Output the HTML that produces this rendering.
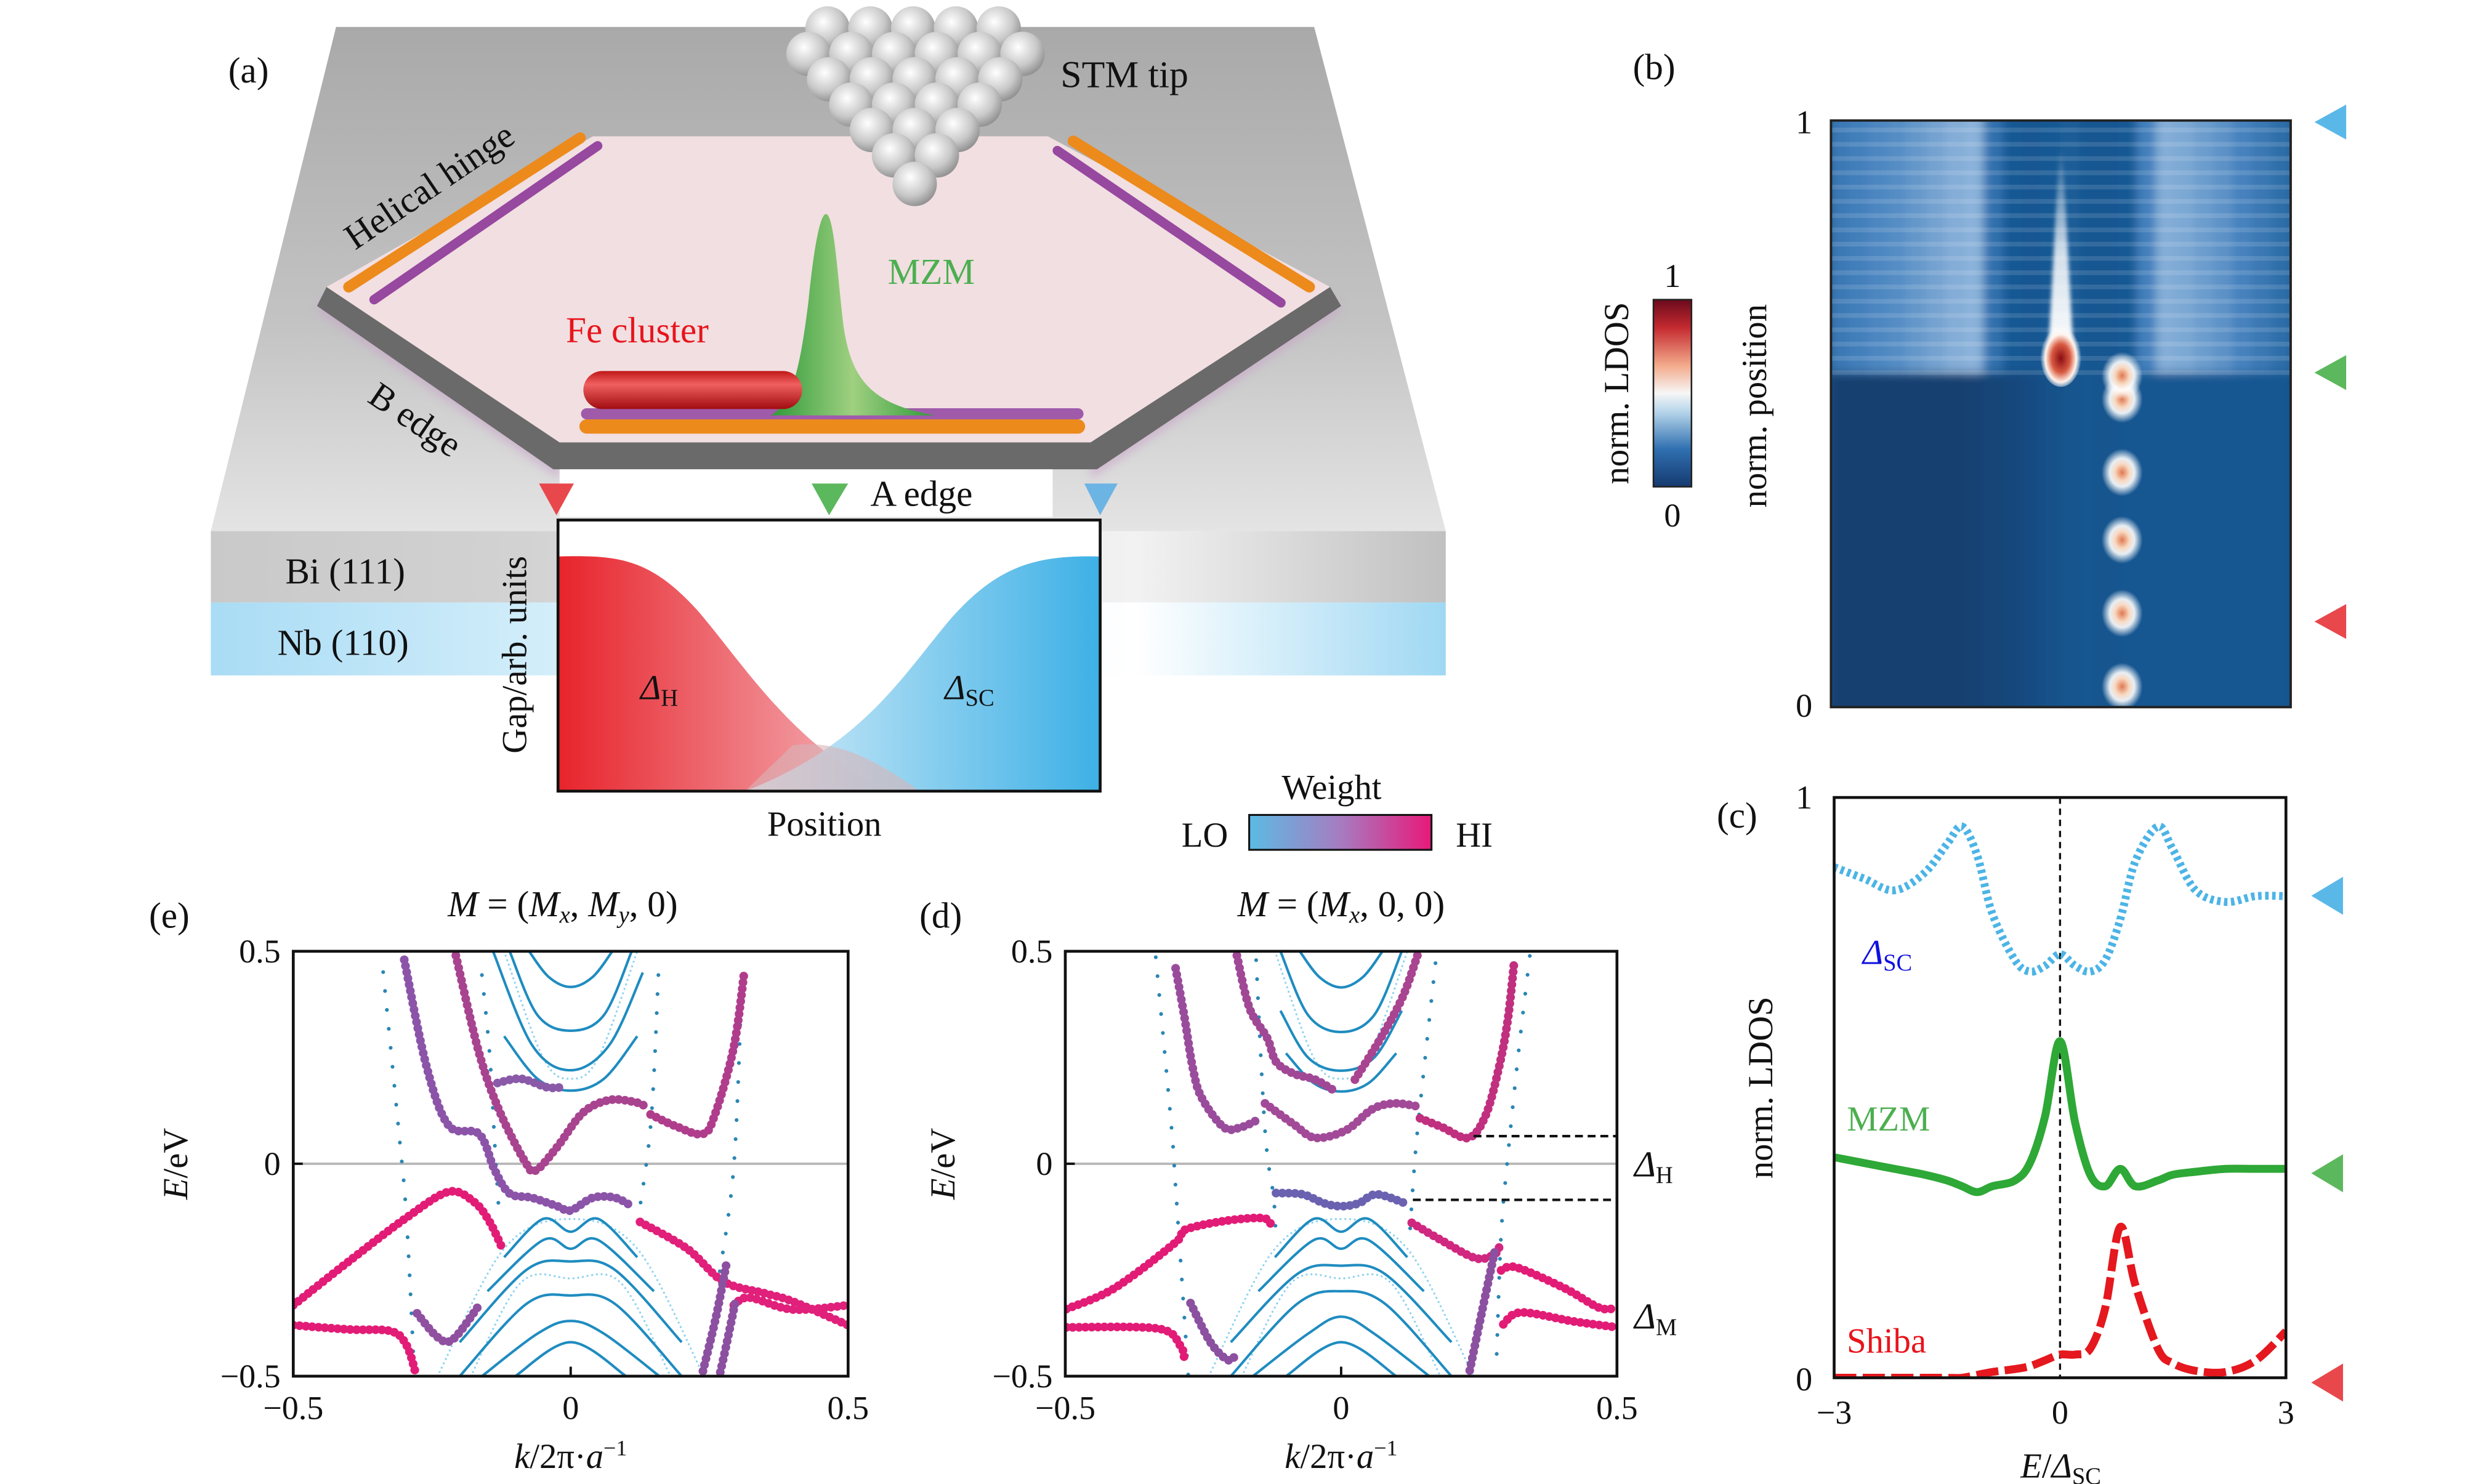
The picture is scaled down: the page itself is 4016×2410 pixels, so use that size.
<!DOCTYPE html>
<html><head><meta charset="utf-8">
<style>
html,body{margin:0;padding:0;background:#fff;}
svg{display:block;}
text{font-family:"Liberation Serif",serif;fill:#111;}
</style></head>
<body>
<svg id="fig" width="4016" height="2410" viewBox="0 0 1560 936" preserveAspectRatio="none" xmlns="http://www.w3.org/2000/svg">
<defs>
  <linearGradient id="gTop" x1="0" y1="0" x2="0" y2="1">
    <stop offset="0" stop-color="#a9a9a9"/><stop offset="0.6" stop-color="#c4c4c4"/><stop offset="1" stop-color="#e4e4e4"/>
  </linearGradient>
  <linearGradient id="gBi" x1="0" y1="0" x2="1" y2="0">
    <stop offset="0" stop-color="#c9c9c9"/><stop offset="0.25" stop-color="#d2d2d2"/><stop offset="0.75" stop-color="#f2f2f2"/><stop offset="1" stop-color="#c0c0c0"/>
  </linearGradient>
  <linearGradient id="gNb" x1="0" y1="0" x2="1" y2="0">
    <stop offset="0" stop-color="#a9dcf5"/><stop offset="0.28" stop-color="#d4eefa"/><stop offset="0.75" stop-color="#ffffff"/><stop offset="1" stop-color="#9fd8f3"/>
  </linearGradient>
  <linearGradient id="gRed" x1="0" y1="0" x2="1" y2="0">
    <stop offset="0" stop-color="#e8232b"/><stop offset="1" stop-color="#f4b9bf"/>
  </linearGradient>
  <linearGradient id="gBlue" x1="0" y1="0" x2="1" y2="0">
    <stop offset="0" stop-color="#d8eef9"/><stop offset="1" stop-color="#33ace4"/>
  </linearGradient>
  <linearGradient id="gWeight" x1="0" y1="0" x2="1" y2="0">
    <stop offset="0" stop-color="#5bbbe4"/><stop offset="0.5" stop-color="#a67cc0"/><stop offset="1" stop-color="#e8197a"/>
  </linearGradient>
  <linearGradient id="gCbar" x1="0" y1="1" x2="0" y2="0">
    <stop offset="0" stop-color="#163a70"/><stop offset="0.2" stop-color="#2f6fb0"/><stop offset="0.4" stop-color="#b6d5ea"/><stop offset="0.5" stop-color="#f6f6f6"/><stop offset="0.65" stop-color="#f3a98a"/><stop offset="0.85" stop-color="#c42a30"/><stop offset="1" stop-color="#6b0a1c"/>
  </linearGradient>
  <linearGradient id="gMZM" x1="0" y1="0" x2="1" y2="0">
    <stop offset="0" stop-color="#2e9a3a"/><stop offset="0.5" stop-color="#9fd080"/><stop offset="1" stop-color="#2e9a3a"/>
  </linearGradient>
  <linearGradient id="gFe" x1="0" y1="0" x2="0" y2="1">
    <stop offset="0" stop-color="#c01818"/><stop offset="0.35" stop-color="#f06060"/><stop offset="1" stop-color="#a00c10"/>
  </linearGradient>
  <radialGradient id="gSphere" cx="0.4" cy="0.35" r="0.7">
    <stop offset="0" stop-color="#ffffff"/><stop offset="0.6" stop-color="#c8c8c8"/><stop offset="1" stop-color="#8a8a8a"/>
  </radialGradient>
  <radialGradient id="gPeak" cx="0.5" cy="0.5" r="0.5">
    <stop offset="0" stop-color="#e07850"/><stop offset="0.35" stop-color="#f8d8c0"/><stop offset="0.6" stop-color="#ffffff" stop-opacity="0.9"/><stop offset="1" stop-color="#ffffff" stop-opacity="0"/>
  </radialGradient>
  <radialGradient id="gDrop" cx="0.5" cy="0.55" r="0.5">
    <stop offset="0" stop-color="#8a0c14"/><stop offset="0.45" stop-color="#d85a40"/><stop offset="0.75" stop-color="#fff4ec"/><stop offset="1" stop-color="#ffffff" stop-opacity="0"/>
  </radialGradient>
  <linearGradient id="gCol" x1="0" y1="0" x2="0" y2="1">
    <stop offset="0" stop-color="#ffffff" stop-opacity="0"/><stop offset="0.5" stop-color="#ffffff" stop-opacity="0.8"/><stop offset="1" stop-color="#ffffff"/>
  </linearGradient>
  <filter id="blur3"><feGaussianBlur stdDeviation="3"/></filter>
  <filter id="blur1"><feGaussianBlur stdDeviation="1.2"/></filter>
  <clipPath id="clipE"><rect x="185" y="600" width="350" height="268"/></clipPath>
  <clipPath id="clipD"><rect x="672" y="600" width="348" height="268"/></clipPath>
  <clipPath id="clipB"><rect x="1155" y="76" width="290" height="370"/></clipPath>
  <clipPath id="clipC"><rect x="1157" y="503" width="285" height="366"/></clipPath>
</defs>

<!-- ================= Panel (a) ================= -->
<g id="panel-a">
  <polygon points="212,17 829,17 912,335 133,335" fill="url(#gTop)"/>
  <rect x="133" y="335" width="779" height="45" fill="url(#gBi)"/>
  <rect x="133" y="380" width="779" height="46" fill="url(#gNb)"/>
  <polygon points="206,186 353,290 353,302 200,196" fill="#c8a0c8" opacity="0.6" filter="url(#blur3)"/>
  <polygon points="839,186 688,290 688,302 846,196" fill="#c8a0c8" opacity="0.6" filter="url(#blur3)"/>
  <polygon points="206,181 353,279 688,279 839,181 846,193 692,296 349,296 200,193" fill="#6a6a6a"/>
  <polygon points="374,86 661,86 839,181 688,279 353,279 206,181" fill="#f1dfe1"/>
  <rect x="353" y="296" width="311" height="30" fill="#ffffff"/>
  <line x1="220" y1="181" x2="366" y2="87" stroke="#ec8a1c" stroke-width="7" stroke-linecap="round"/>
  <line x1="236" y1="189" x2="377" y2="92" stroke="#97489f" stroke-width="6" stroke-linecap="round"/>
  <line x1="677" y1="89" x2="826" y2="181" stroke="#ec8a1c" stroke-width="7" stroke-linecap="round"/>
  <line x1="667" y1="95" x2="808" y2="191" stroke="#97489f" stroke-width="6" stroke-linecap="round"/>
  <line x1="370" y1="261" x2="680" y2="261" stroke="#a05aaa" stroke-width="7" stroke-linecap="round"/>
  <line x1="370" y1="269" x2="680" y2="269" stroke="#ec8a1c" stroke-width="9" stroke-linecap="round"/>
  <path d="M486,262 C500,255 505,230 510,190 C514,150 518,135 521,135 C526,135 528,170 532,205 C537,240 550,255 590,262 Z" fill="url(#gMZM)"/>
  <rect x="368" y="234" width="138" height="24" rx="12" fill="url(#gFe)"/>
  <g id="stm"></g>
  <polygon points="340,305 362,305 351,325" fill="#e8474c"/>
  <polygon points="512,305 535,305 523,325" fill="#5cb85c"/>
  <polygon points="684,305 705,305 694,325" fill="#6cb4e4"/>
  <rect x="352" y="328" width="342" height="171" fill="#fff"/>
  <path d="M352,351 C390,350 410,352 440,385 C470,420 500,470 560,499 L352,499 Z" fill="url(#gRed)"/>
  <path d="M694,351 C655,350 630,356 600,390 C570,425 545,470 470,499 L694,499 Z" fill="url(#gBlue)" opacity="0.95"/>
  <path d="M500,470 C520,468 540,470 580,499 L470,499 Z" fill="#d8b4b8" opacity="0.6"/>
  <rect x="352" y="328" width="342" height="171" fill="none" stroke="#111" stroke-width="1.8"/>
  <text x="144" y="52" font-size="23">(a)</text>
  <text x="669" y="55" font-size="24">STM tip</text>
  <text x="0" y="0" font-size="23" transform="translate(224,158) rotate(-34)">Helical hinge</text>
  <text x="560" y="179" font-size="23" style="fill:#4caf50">MZM</text>
  <text x="357" y="216" font-size="23" style="fill:#e8141c">Fe cluster</text>
  <text x="0" y="0" font-size="23" transform="translate(231,253) rotate(34)">B edge</text>
  <text x="549" y="319" font-size="23">A edge</text>
  <text x="180" y="368" font-size="23">Bi (111)</text>
  <text x="175" y="413" font-size="23">Nb (110)</text>
  <text x="0" y="0" font-size="22" text-anchor="middle" transform="translate(332,413) rotate(-90)">Gap/arb. units</text>
  <text x="520" y="527" font-size="22" text-anchor="middle">Position</text>
  <text x="404" y="441" font-size="22"><tspan font-style="italic">Δ</tspan><tspan font-size="15" dy="4">H</tspan></text>
  <text x="596" y="441" font-size="22"><tspan font-style="italic">Δ</tspan><tspan font-size="15" dy="4">SC</tspan></text>
  <text x="840" y="504" font-size="22" text-anchor="middle">Weight</text>
  <rect x="788" y="514" width="115" height="22" fill="url(#gWeight)" stroke="#111" stroke-width="1.2"/>
  <text x="760" y="534" font-size="22" text-anchor="middle">LO</text>
  <text x="930" y="534" font-size="22" text-anchor="middle">HI</text>
</g>

<!-- ================= Panel (b) ================= -->
<g id="panel-b">
  <text x="1030" y="50" font-size="23">(b)</text>
  <g id="heat" clip-path="url(#clipB)"></g>
  <rect x="1155" y="76" width="290" height="370" fill="none" stroke="#222" stroke-width="1.5"/>
  <text x="1138" y="84" font-size="21" text-anchor="middle">1</text>
  <text x="1138" y="452" font-size="21" text-anchor="middle">0</text>
  <text x="0" y="0" font-size="22" text-anchor="middle" transform="translate(1114,256) rotate(-90)">norm. position</text>
  <rect x="1043" y="189" width="24" height="118" fill="url(#gCbar)" stroke="#222" stroke-width="1"/>
  <text x="1055" y="181" font-size="21" text-anchor="middle">1</text>
  <text x="1055" y="332" font-size="21" text-anchor="middle">0</text>
  <text x="0" y="0" font-size="22" text-anchor="middle" transform="translate(1027,248) rotate(-90)">norm. LDOS</text>
  <polygon points="1480,66 1480,88 1460,77" fill="#5ab8e8"/>
  <polygon points="1480,224 1480,246 1460,235" fill="#5cb85c"/>
  <polygon points="1480,381 1480,403 1460,392" fill="#e8474c"/>
</g>

<!-- ================= Panel (c) ================= -->
<g id="panel-c">
  <text x="1083" y="522" font-size="23">(c)</text>
  <g id="cmarks" clip-path="url(#clipC)"></g>
  <rect x="1157" y="503" width="285" height="366" fill="none" stroke="#111" stroke-width="1.8"/>
  <text x="1138" y="510" font-size="21" text-anchor="middle">1</text>
  <text x="1138" y="877" font-size="21" text-anchor="middle">0</text>
  <g id="cxticks"></g>
  <text x="1300" y="932" font-size="22" text-anchor="middle"><tspan font-style="italic">E</tspan>/<tspan font-style="italic">Δ</tspan><tspan font-size="15" dy="4">SC</tspan></text>
  <text x="0" y="0" font-size="22" text-anchor="middle" transform="translate(1118,686) rotate(-90)">norm. LDOS</text>
  <text x="1175" y="608" font-size="22" style="fill:#1010e0"><tspan font-style="italic">Δ</tspan><tspan font-size="15" dy="4">SC</tspan></text>
  <text x="1165" y="713" font-size="22" style="fill:#4caf50">MZM</text>
  <text x="1165" y="853" font-size="22" style="fill:#e8141c">Shiba</text>
  <polygon points="1478,553 1478,577 1458,565" fill="#5ab8e8"/>
  <polygon points="1478,728 1478,752 1458,740" fill="#5cb85c"/>
  <polygon points="1478,860 1478,884 1458,872" fill="#e8474c"/>
</g>

<!-- ================= Panels (e) and (d) ================= -->
<g id="panel-e">
  <text x="94" y="585" font-size="23">(e)</text>
  <text x="355" y="578" font-size="23" text-anchor="middle"><tspan font-style="italic">M</tspan> = (<tspan font-style="italic">M</tspan><tspan font-size="15" dy="4" font-style="italic">x</tspan><tspan dy="-4">, </tspan><tspan font-style="italic">M</tspan><tspan font-size="15" dy="4" font-style="italic">y</tspan><tspan dy="-4">, 0)</tspan></text>
  <g id="emarks" clip-path="url(#clipE)"></g>
  <rect x="185" y="600" width="350" height="268" fill="none" stroke="#111" stroke-width="1.8"/>
  <g id="eticks"></g>
  <text x="0" y="0" font-size="22" text-anchor="middle" transform="translate(118,734) rotate(-90)"><tspan font-style="italic">E</tspan>/eV</text>
  <text x="360" y="926" font-size="22" text-anchor="middle"><tspan font-style="italic">k</tspan>/2π·<tspan font-style="italic">a</tspan><tspan font-size="14" dy="-8">−1</tspan></text>
</g>
<g id="panel-d">
  <text x="580" y="585" font-size="23">(d)</text>
  <text x="846" y="578" font-size="23" text-anchor="middle"><tspan font-style="italic">M</tspan> = (<tspan font-style="italic">M</tspan><tspan font-size="15" dy="4" font-style="italic">x</tspan><tspan dy="-4">, 0, 0)</tspan></text>
  <g id="dmarks" clip-path="url(#clipD)"></g>
  <rect x="672" y="600" width="348" height="268" fill="none" stroke="#111" stroke-width="1.8"/>
  <g id="dticks"></g>
  <text x="0" y="0" font-size="22" text-anchor="middle" transform="translate(602,734) rotate(-90)"><tspan font-style="italic">E</tspan>/eV</text>
  <text x="846" y="926" font-size="22" text-anchor="middle"><tspan font-style="italic">k</tspan>/2π·<tspan font-style="italic">a</tspan><tspan font-size="14" dy="-8">−1</tspan></text>
  <text x="1031" y="742" font-size="23"><tspan font-style="italic">Δ</tspan><tspan font-size="15" dy="4">H</tspan></text>
  <text x="1031" y="838" font-size="23"><tspan font-style="italic">Δ</tspan><tspan font-size="15" dy="4">M</tspan></text>
</g>
</svg>

<script>
// ---------- Panel (c) data ----------
const cEnergy   = [-3,-2.6,-2.2,-1.8,-1.5,-1.3,-1.1,-0.9,-0.6,-0.4,-0.2,0,0.2,0.4,0.6,0.8,1.0,1.3,1.5,1.8,2.2,2.6,3];
const cDeltaSC  = [0.88,0.86,0.84,0.87,0.92,0.95,0.90,0.80,0.72,0.70,0.71,0.73,0.71,0.70,0.72,0.79,0.89,0.95,0.91,0.84,0.82,0.83,0.83];
const cMZM      = [0.38,0.37,0.36,0.35,0.34,0.33,0.32,0.33,0.34,0.37,0.45,0.58,0.44,0.35,0.33,0.36,0.33,0.34,0.35,0.355,0.36,0.36,0.36];
const cShiba    = [0.0,0.0,0.0,0.0,0.0,0.0,0.005,0.01,0.015,0.02,0.03,0.04,0.04,0.05,0.12,0.26,0.16,0.05,0.025,0.012,0.01,0.03,0.08];
const cXTicks   = [-3,0,3];
const cXTickLabels = ["−3","0","3"];

// ---------- Panel (b) data ----------
const bEnergyCols = [-2.875,-2.625,-2.375,-2.125,-1.875,-1.625,-1.375,-1.125,-0.875,-0.625,-0.375,-0.125,0.125,0.375,0.625,0.875,1.125,1.375,1.625,1.875,2.125,2.375,2.625,2.875];
const bUpper = [0.22,0.24,0.26,0.27,0.29,0.31,0.33,0.34,0.20,0.13,0.12,0.13,0.14,0.12,0.12,0.13,0.24,0.33,0.32,0.30,0.28,0.25,0.22,0.19];
const bLower = [0.03,0.03,0.03,0.03,0.03,0.03,0.03,0.04,0.05,0.06,0.08,0.10,0.11,0.12,0.11,0.12,0.12,0.12,0.12,0.12,0.12,0.12,0.12,0.12];
const bBoundary = 0.57;
const bShibaE = 0.8;
const bShibaPos = [0.035,0.16,0.285,0.40,0.525,0.565];
const bMzmE = 0;
const bMzmPos = 0.6;
const bMzmTop = 0.95;

// ---------- Panel (e) data: [k, E] ----------
const eThick = [
 {c:"#8b54a8", p:[[-0.30,0.48],[-0.26,0.23],[-0.22,0.09],[-0.165,0.07],[-0.137,-0.015],[-0.11,-0.07],[-0.07,-0.08],[-0.024,-0.1],[0,-0.11],[0.04,-0.08],[0.08,-0.08],[0.11,-0.1]]},
 {c:"#a8438f", p:[[-0.207,0.49],[-0.165,0.26],[-0.127,0.12],[-0.08,0.0],[-0.062,-0.015],[-0.024,0.04],[0.022,0.12],[0.07,0.15],[0.116,0.145],[0.135,0.135]]},
 {c:"#b03d8c", p:[[0.144,0.116],[0.19,0.088],[0.238,0.07],[0.26,0.116],[0.294,0.275],[0.313,0.453]]},
 {c:"#8a5aa8", p:[[-0.132,0.19],[-0.09,0.2],[-0.043,0.18],[-0.015,0.18]]},
 {c:"#e21c76", p:[[-0.5,-0.333],[-0.4,-0.23],[-0.296,-0.127],[-0.22,-0.066],[-0.174,-0.09],[-0.146,-0.137],[-0.123,-0.2]]},
 {c:"#e21c76", p:[[-0.5,-0.38],[-0.4,-0.39],[-0.324,-0.394],[-0.296,-0.427],[-0.28,-0.49]]},
 {c:"#9050a0", p:[[-0.277,-0.352],[-0.24,-0.408],[-0.212,-0.413],[-0.165,-0.333]]},
 {c:"#e0207a", p:[[0.125,-0.137],[0.21,-0.2],[0.275,-0.277],[0.35,-0.305],[0.4,-0.324],[0.5,-0.38]]},
 {c:"#e0207a", p:[[0.294,-0.333],[0.322,-0.315],[0.4,-0.343],[0.5,-0.333]]},
 {c:"#8c50a0", p:[[0.28,-0.24],[0.262,-0.36],[0.238,-0.49]]},
 {c:"#8c50a0", p:[[0.296,-0.33],[0.28,-0.43],[0.268,-0.5]]}
];
const eSparse = [
 [[-0.338,0.451],[-0.31,0.079],[-0.296,-0.127],[-0.282,-0.49]],
 [[-0.16,0.444],[-0.146,0.257],[-0.137,0.05],[-0.13,-0.1]],
 [[0.158,0.444],[0.144,0.088],[0.116,-0.174]],
 [[0.308,0.416],[0.294,-0.006],[0.266,-0.277]]
];
const eParab = [
 [[-0.075,0.5],[-0.04,0.44],[0,0.416],[0.04,0.44],[0.075,0.5]],
 [[-0.11,0.5],[-0.06,0.35],[0,0.313],[0.06,0.35],[0.11,0.5]],
 [[-0.14,0.5],[-0.07,0.28],[0,0.22],[0.07,0.28],[0.13,0.45]],
 [[-0.12,0.3],[-0.06,0.2],[0,0.172],[0.06,0.2],[0.12,0.3]],
 [[-0.12,-0.22],[-0.05,-0.13],[0,-0.16],[0.05,-0.13],[0.12,-0.22]],
 [[-0.15,-0.3],[-0.05,-0.18],[0,-0.2],[0.05,-0.18],[0.15,-0.3]],
 [[-0.2,-0.42],[-0.08,-0.25],[0,-0.23],[0.08,-0.25],[0.2,-0.42]],
 [[-0.2,-0.5],[-0.08,-0.33],[0,-0.31],[0.08,-0.33],[0.2,-0.5]],
 [[-0.16,-0.5],[-0.06,-0.4],[0,-0.37],[0.06,-0.4],[0.16,-0.5]],
 [[-0.1,-0.5],[0,-0.42],[0.1,-0.5]]
];
const eFaint = [
 [[-0.12,0.5],[-0.05,0.25],[0,0.2],[0.05,0.25],[0.12,0.5]],
 [[-0.24,-0.5],[-0.12,-0.2],[0,-0.13],[0.12,-0.2],[0.24,-0.5]],
 [[-0.18,-0.5],[-0.09,-0.28],[0,-0.27],[0.09,-0.28],[0.18,-0.5]]
];

// ---------- Panel (d) data: [k, E] ----------
const dThick = [
 {c:"#9a4c9c", p:[[-0.30,0.46],[-0.284,0.345],[-0.269,0.226],[-0.253,0.156],[-0.213,0.086],[-0.181,0.086],[-0.146,0.107]]},
 {c:"#a04896", p:[[-0.189,0.49],[-0.166,0.366],[-0.134,0.296],[-0.118,0.24],[-0.086,0.212],[-0.047,0.198],[-0.01,0.17]]},
 {c:"#a84490", p:[[0.025,0.198],[0.072,0.296],[0.112,0.394],[0.139,0.493]]},
 {c:"#a24a98", p:[[-0.138,0.142],[-0.086,0.093],[-0.047,0.061],[0.009,0.079],[0.056,0.128],[0.096,0.142],[0.139,0.135]]},
 {c:"#c0307f", p:[[0.143,0.107],[0.183,0.086],[0.231,0.061],[0.262,0.114],[0.286,0.226],[0.302,0.338],[0.314,0.479]]},
 {c:"#6a62b0", p:[[-0.118,-0.069],[-0.07,-0.072],[-0.031,-0.093],[0,-0.1],[0.032,-0.093],[0.064,-0.072],[0.116,-0.093]]},
 {c:"#e21c76", p:[[-0.498,-0.342],[-0.411,-0.293],[-0.3,-0.185],[-0.284,-0.156],[-0.213,-0.135],[-0.142,-0.128],[-0.126,-0.146]]},
 {c:"#e21c76", p:[[-0.498,-0.385],[-0.332,-0.388],[-0.292,-0.427],[-0.284,-0.46]]},
 {c:"#8c50a0", p:[[-0.273,-0.328],[-0.237,-0.42],[-0.205,-0.462],[-0.19,-0.448]]},
 {c:"#d02880", p:[[0.128,-0.139],[0.183,-0.181],[0.246,-0.223],[0.282,-0.209],[0.286,-0.188]]},
 {c:"#e21c76", p:[[0.29,-0.251],[0.318,-0.244],[0.405,-0.293],[0.468,-0.339],[0.5,-0.339]]},
 {c:"#e21c76", p:[[0.294,-0.378],[0.326,-0.35],[0.421,-0.371],[0.5,-0.385]]},
 {c:"#8c50a0", p:[[0.278,-0.209],[0.255,-0.35],[0.231,-0.5]]}
];
const dSparse = [
 [[-0.336,0.486],[-0.308,0.093],[-0.3,-0.055],[-0.277,-0.5]],
 [[-0.154,0.479],[-0.142,0.163],[-0.134,0.022],[-0.122,-0.083],[-0.118,-0.188]],
 [[0.171,0.472],[0.151,0.233],[0.135,0.03],[0.124,-0.174]],
 [[0.342,0.489],[0.322,0.268],[0.302,0.015],[0.29,-0.167],[0.282,-0.448]]
];
const dParab = [
 [[-0.075,0.5],[-0.04,0.44],[0,0.415],[0.04,0.44],[0.075,0.5]],
 [[-0.11,0.5],[-0.06,0.35],[0,0.31],[0.06,0.35],[0.11,0.5]],
 [[-0.11,0.36],[-0.06,0.25],[0,0.219],[0.06,0.25],[0.11,0.36]],
 [[-0.1,0.26],[-0.05,0.19],[0,0.17],[0.05,0.19],[0.1,0.26]],
 [[-0.12,-0.22],[-0.05,-0.13],[0,-0.16],[0.05,-0.13],[0.12,-0.22]],
 [[-0.15,-0.3],[-0.05,-0.18],[0,-0.2],[0.05,-0.18],[0.15,-0.3]],
 [[-0.2,-0.42],[-0.08,-0.26],[0,-0.24],[0.08,-0.26],[0.2,-0.42]],
 [[-0.2,-0.5],[-0.08,-0.33],[0,-0.3],[0.08,-0.33],[0.2,-0.5]],
 [[-0.16,-0.5],[-0.06,-0.4],[0,-0.36],[0.06,-0.4],[0.16,-0.5]],
 [[-0.1,-0.5],[0,-0.42],[0.1,-0.5]]
];
const dFaint = [
 [[-0.12,0.5],[-0.05,0.25],[0,0.2],[0.05,0.25],[0.12,0.5]],
 [[-0.24,-0.5],[-0.12,-0.2],[0,-0.13],[0.12,-0.2],[0.24,-0.5]],
 [[-0.18,-0.5],[-0.09,-0.28],[0,-0.27],[0.09,-0.28],[0.18,-0.5]]
];
const bandTicks = [-0.5,0,0.5];
const bandTickLabels = ["−0.5","0","0.5"];
const dGapLines = [0.065,-0.085];

const NS = "http://www.w3.org/2000/svg";
function mk(tag, attrs, parent){
  const el = document.createElementNS(NS, tag);
  for (const k in attrs) el.setAttribute(k, attrs[k]);
  parent.appendChild(el);
  return el;
}
function smooth(pts){
  if (pts.length < 3) return "M" + pts.map(p=>p[0].toFixed(2)+","+p[1].toFixed(2)).join(" L");
  let d = "M" + pts[0][0].toFixed(2) + "," + pts[0][1].toFixed(2);
  for (let i=0;i<pts.length-1;i++){
    const p0 = pts[i-1]||pts[i], p1=pts[i], p2=pts[i+1], p3=pts[i+2]||pts[i+1];
    const c1x=p1[0]+(p2[0]-p0[0])/6, c1y=p1[1]+(p2[1]-p0[1])/6;
    const c2x=p2[0]-(p3[0]-p1[0])/6, c2y=p2[1]-(p3[1]-p1[1])/6;
    d += " C"+c1x.toFixed(2)+","+c1y.toFixed(2)+" "+c2x.toFixed(2)+","+c2y.toFixed(2)+" "+p2[0].toFixed(2)+","+p2[1].toFixed(2);
  }
  return d;
}

// ---- STM tip spheres (decorative) ----
(function(){
  const g = document.getElementById("stm");
  const rows = [[522,549,576,603,630],[510,537,564,591,618,645],[523,550,577,604,631],[537,564,591,618],[550,577,604],[564,591],[577]];
  const ys = [18,34,50,66,82,98,116];
  rows.forEach((r,i)=>r.forEach(x=>{
    const c = mk("circle",{cx:x,cy:ys[i],r:14,fill:"url(#gSphere)"},g);
    
    
  }));
})();

// ---- Panel (c) ----
(function(){
  const x0=1157,x1=1442,y0=869,y1=503;
  const X = e => x0 + (e+3)/6*(x1-x0);
  const Y = v => y0 - v*(y0-y1);
  const g = document.getElementById("cmarks");
  const zl = mk("line",{x1:X(0),x2:X(0),y1:y1,y2:y0,stroke:"#111","stroke-width":1.3,"stroke-dasharray":"4 3"},g);
  
  
  const s1 = mk("path",{d:smooth(cEnergy.map((e,i)=>[X(e),Y(cDeltaSC[i])])),fill:"none",stroke:"#4cb4e6","stroke-width":5,"stroke-dasharray":"2.2 2.2"},g);
  
  
  const s2 = mk("path",{d:smooth(cEnergy.map((e,i)=>[X(e),Y(cMZM[i])])),fill:"none",stroke:"#2ea836","stroke-width":5,"stroke-linejoin":"round"},g);
  
  
  const s3 = mk("path",{d:smooth(cEnergy.map((e,i)=>[X(e),Y(cShiba[i])])),fill:"none",stroke:"#e4181e","stroke-width":5,"stroke-dasharray":"14 4"},g);
  
  
  const t = document.getElementById("cxticks");
  cXTicks.forEach((v,i)=>{
    const tx = mk("text",{x:X(v),y:898,"font-size":21,"text-anchor":"middle"},t);
    tx.textContent = cXTickLabels[i];
    
    
  });
})();

// ---- Panel (b) heatmap ----
(function(){
  const x0=1155,x1=1445,yb=446,yt=76;
  const X = e => x0 + (e+3)/6*(x1-x0);
  const Y = p => yb - p*(yb-yt);
  const stops=[[0,[24,56,100]],[0.12,[20,86,145]],[0.25,[70,130,190]],[0.38,[170,200,230]],[0.5,[246,246,246]],[0.7,[240,160,130]],[1,[110,10,25]]];
  function cmap(v){
    for(let i=0;i<stops.length-1;i++){
      const a=stops[i],b=stops[i+1];
      if(v<=b[0]){const t=(v-a[0])/(b[0]-a[0]);return "rgb("+a[1].map((c,j)=>Math.round(c+(b[1][j]-c)*t)).join(",")+")";}
    }
    return "rgb(110,10,25)";
  }
  const g = document.getElementById("heat");
  const cw = (x1-x0)/bEnergyCols.length;
  const cells = mk("g",{filter:"url(#blur3)"},g);
  mk("rect",{x:x0-10,y:yt-10,width:x1-x0+20,height:yb-yt+20,fill:cmap(0.1)},cells);
  bEnergyCols.forEach((e,i)=>{
    const r1 = mk("rect",{x:X(e)-cw/2-0.5,y:yt-10,width:cw+1,height:Y(bBoundary)-yt+10,fill:cmap(bUpper[i])},cells);
    
    
    const r2 = mk("rect",{x:X(e)-cw/2-0.5,y:Y(bBoundary),width:cw+1,height:yb-Y(bBoundary)+10,fill:cmap(bLower[i])},cells);
    
    
  });
  for(let y=yt+6;y<Y(bBoundary);y+=9){
    mk("line",{x1:x0,x2:x1,y1:y,y2:y,stroke:"#ffffff","stroke-opacity":0.13,"stroke-width":3},g);
  }
  const cx = X(bMzmE);
  const col = mk("polygon",{points:[cx-1,Y(bMzmTop),cx+1,Y(bMzmTop),cx+8,Y(bMzmPos),cx-8,Y(bMzmPos)].join(","),fill:"url(#gCol)",filter:"url(#blur1)"},g);
  
  
  const drop = mk("ellipse",{cx:cx,cy:Y(bMzmPos),rx:13,ry:20,fill:"url(#gDrop)"},g);
  
  
  bShibaPos.forEach(p=>{
    const el = mk("ellipse",{cx:X(bShibaE),cy:Y(p),rx:13,ry:15,fill:"url(#gPeak)"},g);
    
    
  });
})();

// ---- Band panels ----
function drawBands(gid, tid, x0, x1, thick, sparse, parab, faint, prefix){
  const y0=868,y1=600;
  const X = k => x0 + (k+0.5)*(x1-x0);
  const Y = E => (y0+y1)/2 - E*(y0-y1);
  const g = document.getElementById(gid);
  const zl = mk("line",{x1:x0,x2:x1,y1:Y(0),y2:Y(0),stroke:"#b8b8b8","stroke-width":1.5},g);
  
  
  faint.forEach(b=>{
    const el = mk("path",{d:smooth(b.map(p=>[X(p[0]),Y(p[1])])),fill:"none",stroke:"#8fd3f0","stroke-width":1.3,"stroke-dasharray":"0 3","stroke-linecap":"round"},g);
    
    
  });
  parab.forEach(b=>{
    const el = mk("path",{d:smooth(b.map(p=>[X(p[0]),Y(p[1])])),fill:"none",stroke:"#1f8cc0","stroke-width":1.6},g);
    
    
  });
  sparse.forEach(b=>{
    const el = mk("path",{d:smooth(b.map(p=>[X(p[0]),Y(p[1])])),fill:"none",stroke:"#2a86b4","stroke-width":2.4,"stroke-dasharray":"0 12","stroke-linecap":"round"},g);
    
    
  });
  thick.forEach(b=>{
    const el = mk("path",{d:smooth(b.p.map(p=>[X(p[0]),Y(p[1])])),fill:"none",stroke:b.c,"stroke-width":5.5,"stroke-dasharray":"0 4","stroke-linecap":"round"},g);
    
    
  });
  const t = document.getElementById(tid);
  bandTicks.forEach((v,i)=>{
    const ty = mk("text",{x:x0-8,y:Y(v)+7,"font-size":21,"text-anchor":"end"},t);
    ty.textContent = bandTickLabels[i];
    
    
    const tx = mk("text",{x:X(v),y:895,"font-size":21,"text-anchor":"middle"},t);
    tx.textContent = bandTickLabels[i];
    
    
  });
  mk("line",{x1:X(0),x2:X(0),y1:y0,y2:y0-6,stroke:"#111","stroke-width":1.5},t);
  mk("line",{x1:x0,x2:x0+6,y1:Y(0),y2:Y(0),stroke:"#111","stroke-width":1.5},t);
  return {X,Y};
}
drawBands("emarks","eticks",185,535,eThick,eSparse,eParab,eFaint,"e");
const dAx = drawBands("dmarks","dticks",672,1020,dThick,dSparse,dParab,dFaint,"d");
(function(){
  const g = document.getElementById("dmarks");
  const starts = [0.24,0.13];
  dGapLines.forEach((E,i)=>{
    const el = mk("line",{x1:dAx.X(starts[i]),x2:1020,y1:dAx.Y(E),y2:dAx.Y(E),stroke:"#111","stroke-width":1.6,"stroke-dasharray":"5 3"},g);
    
    
  });
})();
</script>
</body></html>
